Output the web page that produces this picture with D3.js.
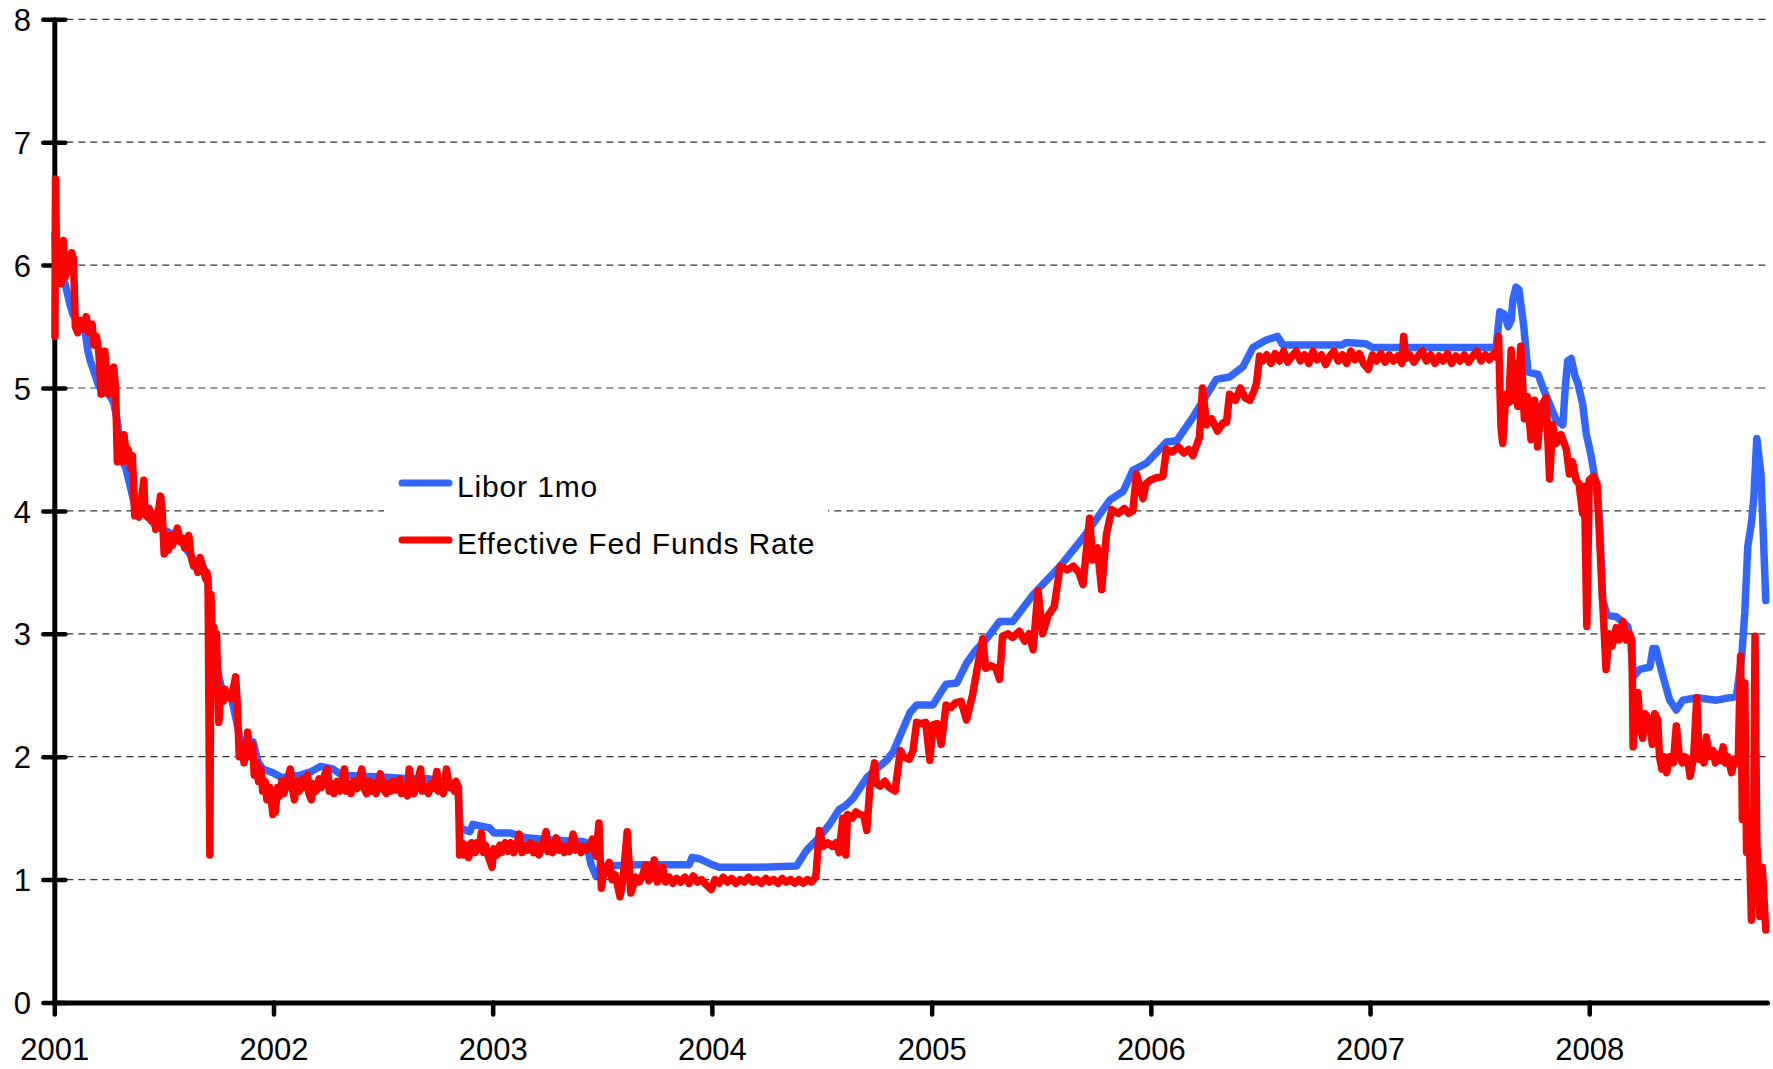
<!DOCTYPE html>
<html><head><meta charset="utf-8">
<script src="https://cdn.jsdelivr.net/npm/d3@7"></script>
<style>
html,body{margin:0;padding:0;background:#fff;}
svg{display:block;}
text{font-family:"Liberation Sans",Arial,Helvetica,sans-serif;fill:#000;}
</style>
</head><body>
<svg id="chart" width="1773" height="1069"></svg>
<script>
const yTickValues = [0,1,2,3,4,5,6,7,8];
const yearTicks = ["2001","2002","2003","2004","2005","2006","2007","2008"];
const seriesNames = ["Libor 1mo","Effective Fed Funds Rate"];
const seriesColors = ["#3366ff","#ff0000"];

const liborSeries = [
["2001-01-02",6.25],["2001-01-04",6.0],["2001-01-10",5.9],["2001-01-19",5.85],["2001-01-26",5.7],["2001-02-01",5.6],["2001-02-08",5.55],["2001-02-20",5.5],["2001-02-26",5.3],["2001-03-02",5.22],["2001-03-09",5.12],["2001-03-15",5.03],["2001-03-22",4.97],["2001-04-02",4.95],["2001-04-10",4.88],["2001-04-17",4.7],["2001-04-20",4.45],["2001-04-30",4.35],["2001-05-08",4.19],["2001-05-16",4.02],["2001-05-25",3.98],["2001-06-05",3.96],["2001-06-15",3.9],["2001-06-26",3.86],["2001-07-05",3.84],["2001-07-20",3.8],["2001-08-01",3.76],["2001-08-10",3.68],["2001-08-22",3.6],["2001-09-04",3.56],["2001-09-10",3.5],["2001-09-14",3.4],["2001-09-18",3.05],["2001-09-25",2.85],["2001-10-01",2.68],["2001-10-08",2.52],["2001-10-22",2.5],["2001-10-31",2.3],["2001-11-08",2.1],["2001-11-16",2.06],["2001-11-28",2.12],["2001-12-06",1.96],["2001-12-14",1.9],["2001-12-31",1.87],
["2002-01-15",1.83],["2002-02-15",1.85],["2002-03-05",1.88],["2002-03-20",1.92],["2002-04-10",1.9],["2002-04-25",1.85],["2002-06-01",1.84],["2002-07-15",1.83],["2002-08-15",1.82],["2002-09-15",1.82],["2002-10-10",1.8],["2002-10-28",1.78],["2002-11-04",1.74],["2002-11-08",1.42],["2002-11-24",1.39],["2002-11-29",1.45],["2002-12-27",1.42],
["2003-01-03",1.38],["2003-01-29",1.38],["2003-02-26",1.34],["2003-04-15",1.32],["2003-05-31",1.31],["2003-06-06",1.3],["2003-06-14",1.12],["2003-06-22",1.03],["2003-06-27",1.08],["2003-07-08",1.11],["2003-09-01",1.12],["2003-11-24",1.12],["2003-11-29",1.18],["2003-12-11",1.17],
["2004-01-02",1.12],["2004-01-13",1.1],["2004-03-15",1.1],["2004-05-21",1.11],["2004-06-07",1.24],["2004-06-29",1.35],["2004-07-15",1.45],["2004-07-31",1.57],["2004-08-10",1.6],["2004-08-23",1.66],["2004-09-15",1.83],["2004-10-01",1.9],["2004-10-18",1.97],["2004-10-29",2.04],["2004-11-26",2.36],["2004-12-07",2.42],
["2005-01-03",2.42],["2005-01-25",2.59],["2005-02-12",2.6],["2005-02-28",2.76],["2005-03-16",2.87],["2005-04-01",2.95],["2005-04-24",3.1],["2005-05-16",3.1],["2005-06-19",3.32],["2005-08-03",3.55],["2005-09-10",3.78],["2005-10-25",4.09],["2005-11-16",4.16],["2005-12-02",4.33],["2005-12-25",4.39],
["2006-01-27",4.56],["2006-02-13",4.57],["2006-03-13",4.77],["2006-04-20",5.07],["2006-05-12",5.09],["2006-06-03",5.17],["2006-06-20",5.33],["2006-07-12",5.39],["2006-07-31",5.42],["2006-08-09",5.35],["2006-11-15",5.35],["2006-11-22",5.37],["2006-12-25",5.36],
["2007-01-05",5.33],["2007-07-30",5.33],["2007-08-05",5.62],["2007-08-13",5.6],["2007-08-19",5.5],["2007-08-24",5.55],["2007-08-27",5.72],["2007-09-01",5.82],["2007-09-06",5.8],["2007-09-14",5.5],["2007-09-21",5.13],["2007-10-08",5.11],["2007-10-16",5.0],["2007-10-27",4.87],["2007-11-07",4.74],["2007-11-18",4.7],["2007-11-22",5.0],["2007-11-26",5.22],["2007-12-02",5.24],["2007-12-08",5.1],["2007-12-13",5.04],["2007-12-21",4.87],["2007-12-27",4.63],
["2008-01-04",4.45],["2008-01-12",4.22],["2008-01-18",3.95],["2008-01-23",3.28],["2008-01-31",3.15],["2008-02-15",3.14],["2008-03-05",3.06],["2008-03-10",2.95],["2008-03-14",2.65],["2008-03-25",2.71],["2008-04-11",2.73],["2008-04-16",2.88],["2008-04-21",2.88],["2008-05-03",2.65],["2008-05-14",2.46],["2008-05-25",2.38],["2008-06-05",2.46],["2008-06-28",2.48],["2008-07-31",2.46],["2008-09-02",2.49],["2008-09-11",2.82],["2008-09-16",3.17],["2008-09-21",3.71],["2008-09-27",3.9],["2008-10-01",4.1],["2008-10-06",4.59],["2008-10-13",4.3],["2008-10-21",3.27]
];

const fedFundsSeries = [
["2001-01-02",5.42],["2001-01-03",6.70],["2001-01-05",6.0],["2001-01-09",6.15],["2001-01-12",5.85],["2001-01-16",6.2],["2001-01-19",5.9],["2001-01-23",6.05],["2001-01-26",5.95],["2001-01-30",6.1],["2001-02-02",6.05],["2001-02-05",5.5],["2001-02-09",5.45],["2001-02-14",5.55],["2001-02-19",5.48],["2001-02-23",5.58],["2001-02-28",5.45],["2001-03-05",5.52],["2001-03-08",5.35],["2001-03-12",5.42],["2001-03-16",5.3],["2001-03-20",4.95],["2001-03-23",5.05],["2001-03-26",5.3],["2001-03-30",5.05],["2001-04-02",4.95],["2001-04-05",5.15],["2001-04-10",5.17],["2001-04-13",5.0],["2001-04-16",4.4],["2001-04-20",4.6],["2001-04-24",4.4],["2001-04-27",4.62],["2001-05-01",4.45],["2001-05-04",4.5],["2001-05-08",4.35],["2001-05-11",4.45],["2001-05-15",3.96],["2001-05-18",4.02],["2001-05-22",3.95],["2001-05-25",4.05],["2001-05-30",4.25],["2001-06-01",3.98],["2001-06-05",3.95],["2001-06-08",4.02],["2001-06-12",3.92],["2001-06-15",3.98],["2001-06-19",3.85],["2001-06-22",3.95],["2001-06-27",4.12],["2001-06-29",4.05],["2001-07-03",3.65],["2001-07-06",3.78],["2001-07-10",3.68],["2001-07-13",3.8],["2001-07-17",3.72],["2001-07-20",3.78],["2001-07-25",3.86],["2001-07-30",3.75],["2001-08-02",3.78],["2001-08-06",3.7],["2001-08-13",3.8],["2001-08-17",3.62],["2001-08-21",3.55],["2001-08-24",3.58],["2001-08-28",3.5],["2001-09-01",3.62],["2001-09-05",3.55],["2001-09-10",3.45],["2001-09-12",3.5],["2001-09-14",3.45],["2001-09-17",1.2],["2001-09-19",3.32],["2001-09-21",2.9],["2001-09-24",3.05],["2001-09-26",2.7],["2001-09-28",3.0],["2001-10-02",2.28],["2001-10-05",2.5],["2001-10-09",2.45],["2001-10-12",2.55],["2001-10-16",2.48],["2001-10-19",2.52],["2001-10-23",2.47],["2001-10-26",2.55],["2001-10-30",2.65],["2001-11-02",2.4],["2001-11-05",2.0],["2001-11-09",2.1],["2001-11-13",1.95],["2001-11-16",2.05],["2001-11-19",2.2],["2001-11-23",2.0],["2001-11-27",2.1],["2001-11-30",1.85],["2001-12-04",1.95],["2001-12-07",1.8],["2001-12-11",1.9],["2001-12-14",1.72],["2001-12-18",1.8],["2001-12-21",1.65],["2001-12-26",1.75],["2001-12-31",1.53],
["2002-01-02",1.62],["2002-01-04",1.55],["2002-01-08",1.75],["2002-01-11",1.68],["2002-01-15",1.8],["2002-01-18",1.7],["2002-01-23",1.78],["2002-01-29",1.9],["2002-02-01",1.75],["2002-02-05",1.65],["2002-02-08",1.8],["2002-02-13",1.72],["2002-02-19",1.82],["2002-02-22",1.75],["2002-02-27",1.85],["2002-03-01",1.7],["2002-03-05",1.65],["2002-03-08",1.78],["2002-03-13",1.72],["2002-03-18",1.82],["2002-03-22",1.75],["2002-03-27",1.85],["2002-04-01",1.9],["2002-04-04",1.72],["2002-04-09",1.78],["2002-04-12",1.7],["2002-04-17",1.8],["2002-04-22",1.72],["2002-04-26",1.82],["2002-04-29",1.9],["2002-05-02",1.72],["2002-05-07",1.78],["2002-05-10",1.7],["2002-05-15",1.8],["2002-05-20",1.74],["2002-05-24",1.82],["2002-05-28",1.9],["2002-05-31",1.75],["2002-06-05",1.7],["2002-06-10",1.8],["2002-06-13",1.72],["2002-06-18",1.78],["2002-06-21",1.7],["2002-06-26",1.82],["2002-06-28",1.86],["2002-07-02",1.74],["2002-07-08",1.7],["2002-07-11",1.78],["2002-07-16",1.72],["2002-07-19",1.8],["2002-07-24",1.73],["2002-07-30",1.82],["2002-08-02",1.7],["2002-08-07",1.76],["2002-08-12",1.68],["2002-08-15",1.9],["2002-08-20",1.75],["2002-08-23",1.7],["2002-08-28",1.78],["2002-09-03",1.9],["2002-09-06",1.72],["2002-09-11",1.76],["2002-09-16",1.7],["2002-09-20",1.78],["2002-09-25",1.74],["2002-09-30",1.88],["2002-10-03",1.72],["2002-10-08",1.76],["2002-10-11",1.7],["2002-10-16",1.9],["2002-10-21",1.75],["2002-10-24",1.78],["2002-10-29",1.72],["2002-11-01",1.8],["2002-11-05",1.75],["2002-11-07",1.2],
["2002-11-11",1.3],["2002-11-14",1.2],["2002-11-18",1.28],["2002-11-22",1.18],["2002-11-27",1.3],["2002-12-03",1.22],["2002-12-06",1.3],["2002-12-10",1.25],["2002-12-13",1.38],["2002-12-17",1.22],["2002-12-20",1.28],["2002-12-24",1.2],["2002-12-31",1.1],
["2003-01-03",1.25],["2003-01-08",1.2],["2003-01-13",1.28],["2003-01-16",1.22],["2003-01-22",1.3],["2003-01-27",1.23],["2003-01-31",1.3],["2003-02-05",1.22],["2003-02-10",1.27],["2003-02-14",1.37],["2003-02-19",1.22],["2003-02-24",1.28],["2003-02-28",1.24],["2003-03-05",1.3],["2003-03-10",1.22],["2003-03-14",1.28],["2003-03-19",1.2],["2003-03-24",1.27],["2003-03-31",1.39],["2003-04-03",1.23],["2003-04-08",1.28],["2003-04-11",1.22],["2003-04-17",1.34],["2003-04-22",1.24],["2003-04-25",1.28],["2003-04-30",1.22],["2003-05-05",1.27],["2003-05-09",1.23],["2003-05-15",1.37],["2003-05-20",1.24],["2003-05-23",1.28],["2003-05-28",1.22],["2003-06-02",1.27],["2003-06-06",1.24],["2003-06-11",1.27],["2003-06-16",1.33],["2003-06-19",1.24],["2003-06-22",1.19],["2003-06-27",1.46],["2003-07-01",0.93],["2003-07-03",1.0],["2003-07-08",1.08],["2003-07-14",1.14],["2003-07-19",1.0],["2003-07-24",1.04],["2003-08-01",0.86],["2003-08-06",1.0],["2003-08-13",1.39],["2003-08-19",0.89],["2003-08-27",1.02],["2003-09-02",0.98],["2003-09-08",1.04],["2003-09-13",1.12],["2003-09-18",0.99],["2003-09-24",1.03],["2003-09-27",1.16],["2003-10-02",0.98],["2003-10-08",1.02],["2003-10-11",1.1],["2003-10-16",0.98],["2003-10-22",1.02],["2003-10-28",0.97],["2003-11-03",1.01],["2003-11-10",0.98],["2003-11-17",1.02],["2003-11-24",0.97],["2003-12-01",1.03],["2003-12-08",0.98],["2003-12-15",1.0],["2003-12-22",0.96],["2003-12-31",0.92],
["2004-01-06",1.0],["2004-01-13",0.97],["2004-01-20",1.02],["2004-01-27",0.98],["2004-02-03",1.01],["2004-02-10",0.97],["2004-02-17",1.0],["2004-02-24",0.98],["2004-03-02",1.02],["2004-03-09",0.98],["2004-03-16",1.0],["2004-03-23",0.97],["2004-03-31",1.01],["2004-04-06",0.98],["2004-04-13",1.0],["2004-04-20",0.97],["2004-04-27",1.01],["2004-05-04",0.98],["2004-05-11",1.0],["2004-05-18",0.97],["2004-05-25",1.0],["2004-06-01",0.97],["2004-06-08",1.0],["2004-06-15",0.98],["2004-06-22",1.02],["2004-06-28",1.4],["2004-07-04",1.27],["2004-07-12",1.3],["2004-07-20",1.27],["2004-07-26",1.3],["2004-07-31",1.22],["2004-08-06",1.5],["2004-08-11",1.2],["2004-08-14",1.53],["2004-08-22",1.5],["2004-08-28",1.55],["2004-09-03",1.53],["2004-09-10",1.52],["2004-09-15",1.4],["2004-09-20",1.75],["2004-09-28",1.95],["2004-10-01",1.78],["2004-10-07",1.76],["2004-10-15",1.8],["2004-10-22",1.75],["2004-11-01",1.72],["2004-11-10",2.05],["2004-11-15",2.0],["2004-11-25",1.98],["2004-12-01",2.05],["2004-12-07",2.28],["2004-12-14",2.27],["2004-12-22",2.28],["2004-12-29",1.97],
["2005-01-03",2.26],["2005-01-10",2.27],["2005-01-17",2.1],["2005-01-25",2.42],["2005-02-02",2.4],["2005-02-10",2.44],["2005-02-19",2.45],["2005-02-28",2.3],["2005-03-10",2.5],["2005-03-18",2.72],["2005-03-27",2.96],["2005-04-01",2.72],["2005-04-10",2.74],["2005-04-18",2.72],["2005-04-24",2.63],["2005-04-29",2.98],["2005-05-08",3.0],["2005-05-16",2.97],["2005-05-27",3.02],["2005-06-05",2.94],["2005-06-12",3.0],["2005-06-19",2.87],["2005-06-27",3.35],["2005-07-05",3.0],["2005-07-14",3.15],["2005-07-24",3.22],["2005-08-03",3.55],["2005-08-15",3.52],["2005-08-25",3.55],["2005-09-03",3.5],["2005-09-10",3.4],["2005-09-21",3.94],["2005-09-26",3.6],["2005-10-04",3.7],["2005-10-11",3.36],["2005-10-19",3.81],["2005-10-28",4.01],["2005-11-08",3.98],["2005-11-18",4.02],["2005-11-25",3.98],["2005-12-02",4.0],["2005-12-08",4.3],["2005-12-19",4.1],["2005-12-24",4.22],["2005-12-31",4.25],
["2006-01-10",4.27],["2006-01-21",4.28],["2006-01-27",4.5],["2006-02-06",4.48],["2006-02-16",4.52],["2006-02-25",4.47],["2006-03-05",4.5],["2006-03-12",4.45],["2006-03-23",4.6],["2006-03-28",5.0],["2006-04-04",4.7],["2006-04-12",4.75],["2006-04-22",4.65],["2006-05-02",4.72],["2006-05-07",4.72],["2006-05-12",4.95],["2006-05-22",4.9],["2006-05-30",5.0],["2006-06-07",4.92],["2006-06-15",4.9],["2006-06-22",4.98],["2006-06-26",5.04],["2006-07-01",5.26],["2006-07-06",5.22],["2006-07-13",5.27],["2006-07-20",5.2],["2006-07-27",5.28],["2006-08-03",5.22],["2006-08-10",5.3],["2006-08-17",5.21],["2006-08-24",5.26],["2006-08-31",5.3],["2006-09-07",5.22],["2006-09-14",5.27],["2006-09-21",5.2],["2006-09-28",5.3],["2006-10-05",5.23],["2006-10-12",5.27],["2006-10-19",5.19],["2006-10-26",5.26],["2006-11-02",5.3],["2006-11-09",5.22],["2006-11-16",5.27],["2006-11-23",5.2],["2006-11-30",5.3],["2006-12-07",5.23],["2006-12-14",5.28],["2006-12-21",5.2],["2006-12-29",5.15],
["2007-01-05",5.27],["2007-01-12",5.22],["2007-01-19",5.28],["2007-01-26",5.21],["2007-02-02",5.27],["2007-02-09",5.22],["2007-02-16",5.26],["2007-02-23",5.2],["2007-02-26",5.42],["2007-03-01",5.24],["2007-03-08",5.27],["2007-03-15",5.21],["2007-03-22",5.26],["2007-03-29",5.3],["2007-04-05",5.22],["2007-04-12",5.27],["2007-04-19",5.2],["2007-04-26",5.26],["2007-05-03",5.22],["2007-05-10",5.28],["2007-05-17",5.2],["2007-05-24",5.26],["2007-05-31",5.22],["2007-06-07",5.27],["2007-06-14",5.21],["2007-06-21",5.26],["2007-06-28",5.3],["2007-07-05",5.22],["2007-07-12",5.27],["2007-07-19",5.23],["2007-07-26",5.28],["2007-07-31",5.25],["2007-08-03",5.42],["2007-08-07",4.68],["2007-08-10",4.55],["2007-08-15",4.95],["2007-08-20",4.88],["2007-08-24",5.31],["2007-08-26",4.9],["2007-09-01",5.2],["2007-09-04",4.85],["2007-09-09",5.34],["2007-09-15",4.75],["2007-09-20",4.93],["2007-09-26",4.58],["2007-10-02",4.9],["2007-10-07",4.52],["2007-10-13",4.85],["2007-10-21",4.92],["2007-10-27",4.26],["2007-11-01",4.7],["2007-11-07",4.55],["2007-11-15",4.62],["2007-11-24",4.5],["2007-11-29",4.3],["2007-12-04",4.4],["2007-12-10",4.25],["2007-12-15",4.22],["2007-12-21",3.98],["2007-12-24",4.2],["2007-12-28",3.06],
["2008-01-01",4.25],["2008-01-08",4.28],["2008-01-14",4.22],["2008-01-20",3.6],["2008-01-24",3.2],["2008-01-29",2.71],["2008-02-03",3.0],["2008-02-08",2.9],["2008-02-15",3.05],["2008-02-20",2.95],["2008-02-26",3.1],["2008-03-03",2.95],["2008-03-08",3.0],["2008-03-12",2.95],["2008-03-14",2.08],["2008-03-19",2.4],["2008-03-22",2.52],["2008-03-25",2.3],["2008-03-30",2.15],["2008-04-03",2.35],["2008-04-10",2.3],["2008-04-15",2.1],["2008-04-19",2.35],["2008-04-24",2.3],["2008-04-27",2.0],["2008-05-01",1.9],["2008-05-05",2.0],["2008-05-09",1.87],["2008-05-14",2.0],["2008-05-20",1.95],["2008-05-25",2.25],["2008-05-30",2.0],["2008-06-04",1.95],["2008-06-08",2.0],["2008-06-13",1.98],["2008-06-17",1.84],["2008-06-23",2.0],["2008-06-28",2.48],["2008-07-02",1.98],["2008-07-06",2.0],["2008-07-10",1.95],["2008-07-14",2.16],["2008-07-18",2.0],["2008-07-25",2.05],["2008-07-29",1.95],["2008-08-03",2.02],["2008-08-07",1.97],["2008-08-11",2.08],["2008-08-15",1.95],["2008-08-19",2.0],["2008-08-25",1.87],["2008-08-30",1.98],["2008-09-05",1.95],["2008-09-09",2.82],["2008-09-12",1.49],["2008-09-16",2.6],["2008-09-19",1.22],["2008-09-23",1.5],["2008-09-25",1.08],["2008-09-27",0.67],["2008-10-01",1.5],["2008-10-03",2.98],["2008-10-06",1.3],["2008-10-08",1.08],["2008-10-11",0.7],["2008-10-15",1.1],["2008-10-21",0.59]
];

const parse = d3.timeParse("%Y-%m-%d");
const svg = d3.select("#chart");

const x = d3.scaleTime()
  .domain([parse("2001-01-01"), parse("2008-10-23")])
  .range([54.3, 1767]);
const y = d3.scaleLinear().domain([0, 8]).range([1002.5, 19.3]);

// gridlines
svg.append("g").selectAll("line")
  .data(yTickValues.filter(v => v > 0))
  .join("line")
  .attr("x1", x.range()[0]).attr("x2", x.range()[1])
  .attr("y1", d => y(d)).attr("y2", d => y(d))
  .attr("stroke", "#333").attr("stroke-width", 1.2)
  .attr("stroke-dasharray", "7,5");

// axes
const yAxis = svg.append("g")
  .attr("transform", `translate(${x.range()[0]},0)`)
  .call(d3.axisLeft(y).tickValues(yTickValues).tickFormat(d3.format("d"))
    .tickSizeInner(11).tickSizeOuter(0).tickPadding(12.3));
yAxis.select(".domain").attr("stroke", "#000").attr("stroke-width", 5).attr("stroke-linecap", "round");
yAxis.selectAll(".tick line").attr("x1", -11).attr("x2", 11)
  .attr("stroke", "#000").attr("stroke-width", 4.5).attr("stroke-linecap", "round");
yAxis.selectAll(".tick text").attr("font-size", 31).attr("dy", "0.36em")
  .style("font-family", '"Liberation Sans", Arial, sans-serif').attr("fill", "#000");

const xAxis = svg.append("g")
  .attr("transform", `translate(0,${y(0)})`)
  .call(d3.axisBottom(x).tickValues(yearTicks.map(s => parse(s + "-01-01")))
    .tickFormat(d3.timeFormat("%Y"))
    .tickSizeInner(12).tickSizeOuter(0).tickPadding(23.6));
xAxis.select(".domain").attr("stroke", "#000").attr("stroke-width", 5).attr("stroke-linecap", "round");
xAxis.selectAll(".tick line").attr("stroke", "#000").attr("stroke-width", 4.5).attr("stroke-linecap", "round");
xAxis.selectAll(".tick text").attr("font-size", 31)
  .style("font-family", '"Liberation Sans", Arial, sans-serif').attr("fill", "#000");

// series lines
const line = d3.line().x(d => x(parse(d[0]))).y(d => y(d[1]));
[liborSeries, fedFundsSeries].forEach((s, i) => {
  svg.append("path").datum(s)
    .attr("d", line)
    .attr("fill", "none")
    .attr("stroke", seriesColors[i])
    .attr("stroke-width", 7.5)
    .attr("stroke-linejoin", "round")
    .attr("stroke-linecap", "round");
});

// legend
const legend = svg.append("g");
legend.append("rect").attr("x", 384).attr("y", 455).attr("width", 444).attr("height", 110).attr("fill", "#fff");
const legendY = [483, 540];
seriesNames.forEach((name, i) => {
  legend.append("line").attr("x1", 402).attr("x2", 449)
    .attr("y1", legendY[i]).attr("y2", legendY[i])
    .attr("stroke", seriesColors[i]).attr("stroke-width", 7).attr("stroke-linecap", "round");
  legend.append("text").attr("x", 457).attr("y", legendY[i] + 13.5)
    .attr("font-size", 30).attr("letter-spacing", "0.85px")
    .text(name);
});
</script>
</body></html>
